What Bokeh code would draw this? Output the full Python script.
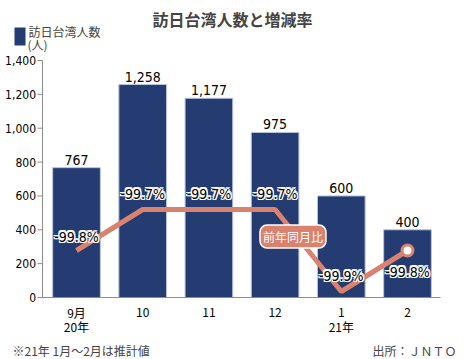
from bokeh.plotting import figure
from bokeh.models import ColumnDataSource, Range1d, Label, BoxAnnotation
from bokeh.core.properties import value
from bokeh.embed import file_html
from bokeh.resources import INLINE

# ---- data ----
months = ["9月", "10", "11", "12", "1", "2"]
years = ["20年", "", "", "", "21年", ""]
visitors = [767, 1258, 1177, 975, 600, 400]
change_pct = [-99.8, -99.7, -99.7, -99.7, -99.9, -99.8]
y_ticks = [0, 200, 400, 600, 800, 1000, 1200, 1400]

# ---- layout (pixels on the 465x359 canvas) ----
W, H = 465, 359
PLOT_L, PLOT_R = 42, 440          # axis extents
PLOT_TOP, PLOT_BOT = 60, 297      # pixel of y=1400 and y=0
X0_PX, DX_PX = 76, 66.2           # centre of first category, category spacing
PCT_HI_PX, PCT_LO_PX = 209, 291   # pixel of -99.7 and -99.9 (hidden secondary scale)

BAR = "#243c72"
LINE = "#d9826e"
AXIS = "#8c8c8c"
NUM_FONT = "'Liberation Sans Narrow', 'DejaVu Sans Condensed', 'Roboto', sans-serif"
JP_FONT = "Noto Sans CJK JP"

ymax = y_ticks[-1]
ky = (PLOT_BOT - PLOT_TOP) / ymax                 # px per unit
y_start = -(H - PLOT_BOT) / ky
y_end = ymax + PLOT_TOP / ky
x_start = -X0_PX / DX_PX
x_end = (W - X0_PX) / DX_PX
kp = (PCT_LO_PX - PCT_HI_PX) / 0.2                # px per percentage point
p_start = -99.9 - (H - PCT_LO_PX) / kp
p_end = -99.7 + PCT_HI_PX / kp

x_axis_l = (PLOT_L - X0_PX) / DX_PX
x_axis_r = (PLOT_R - X0_PX) / DX_PX

xs = list(range(len(months)))

p = figure(width=W, height=H, output_backend="svg", toolbar_location=None,
           x_range=Range1d(x_start, x_end), y_range=Range1d(y_start, y_end),
           min_border=0)
p.extra_y_ranges = {"pct": Range1d(p_start, p_end)}
p.axis.visible = False
p.grid.visible = False
p.outline_line_color = None
p.background_fill_color = "white"
p.border_fill_color = "white"

src = ColumnDataSource(dict(
    x=xs, v=visitors, vl=[f"{v:,}" for v in visitors],
    c=change_pct, cl=[f"{c:.1f}%" for c in change_pct],
    yo=[-14, -16, -16, -16, -16, 21], m=months, yr=years))

# bars
p.vbar(x="x", top="v", width=0.72, source=src, fill_color=BAR,
       line_color="#b8c4dc", line_width=1)

# axes drawn from the ranges
p.segment(x0=[x_axis_l], y0=[0], x1=[x_axis_l], y1=[ymax], line_color=AXIS, line_width=1)
p.segment(x0=[x_axis_l], y0=[0], x1=[x_axis_r], y1=[0], line_color=AXIS, line_width=1)
tick_src = ColumnDataSource(dict(x=[x_axis_l - 2.5 / DX_PX] * len(y_ticks), y=y_ticks,
                                 t=[f"{t:,}" for t in y_ticks]))
p.scatter(x="x", y="y", source=tick_src, marker="dash", size=5, line_color=AXIS,
          line_width=1)
p.text(x="x", y="y", text="t", source=tick_src, x_offset=-4, text_align="right",
       text_baseline="middle", text_font=value(NUM_FONT), text_font_size="12px",
       text_color="black")

# category labels
p.text(x="x", y=0, text="m", source=src, y_offset=15, text_align="center",
       text_baseline="middle", text_font=value(JP_FONT), text_font_size="12px",
       text_color="black")
p.text(x="x", y=0, text="yr", source=src, y_offset=29, text_align="center",
       text_baseline="middle", text_font=value(JP_FONT), text_font_size="12px",
       text_color="black")

# bar value labels
p.text(x="x", y="v", text="vl", source=src, text_align="center",
       text_baseline="alphabetic", y_offset=-8, text_font=value(NUM_FONT),
       text_font_size="14px", text_color="black")

# change line
p.line(x="x", y="c", source=src, y_range_name="pct", line_color=LINE, line_width=5)
p.scatter(x=[xs[-1]], y=[change_pct[-1]], y_range_name="pct", size=11,
          fill_color="white", line_color=LINE, line_width=3)

# halo text for percentages (white copies around the black text)
for dy in (-1.2, 0, 1.2):
    hs = ColumnDataSource(dict(x=xs, c=change_pct, cl=src.data["cl"],
                               yo=[v + dy for v in src.data["yo"]]))
    for dx in (-1.2, 0, 1.2):
        if dx == 0 and dy == 0:
            continue
        p.text(x="x", y="c", text="cl", source=hs, y_range_name="pct",
               text_align="center", text_baseline="middle",
               x_offset=dx, y_offset="yo", text_font=value(NUM_FONT),
               text_font_size="14px", text_color="white")
p.text(x="x", y="c", text="cl", source=src, y_range_name="pct",
       text_align="center", text_baseline="middle", y_offset="yo",
       text_font=value(NUM_FONT), text_font_size="14px", text_color="black")

# series tag
p.add_layout(Label(x=3.27, y=-99.766, y_range_name="pct", text="前年同月比",
                   text_font=JP_FONT, text_font_size="12px", text_color="white",
                   text_align="center", text_baseline="middle",
                   background_fill_color=LINE, border_line_color="white",
                   border_line_width=1.5, padding=3, border_radius=7))

# title, legend, notes (screen units from bottom-left)
p.add_layout(Label(x=232, y=H - 18, x_units="screen", y_units="screen",
                   text="訪日台湾人数と増減率", text_font=JP_FONT,
                   text_font_size="16px", text_font_style="bold",
                   text_align="center", text_baseline="middle"))
p.add_layout(BoxAnnotation(left=14, right=25, top=H - 27, bottom=H - 45,
                           left_units="screen", right_units="screen",
                           top_units="screen", bottom_units="screen",
                           fill_color=BAR, fill_alpha=1, line_color=None))
p.add_layout(Label(x=28, y=H - 31, x_units="screen", y_units="screen",
                   text="訪日台湾人数", text_font=JP_FONT, text_font_size="12px",
                   text_align="left", text_baseline="middle"))
p.add_layout(Label(x=27, y=H - 44, x_units="screen", y_units="screen",
                   text="(人)", text_font=JP_FONT, text_font_size="12px",
                   text_align="left", text_baseline="middle"))
p.add_layout(Label(x=12, y=H - 350, x_units="screen", y_units="screen",
                   text="※21年 1月～2月は推計値", text_font=JP_FONT,
                   text_font_size="12px", text_align="left",
                   text_baseline="middle"))
p.add_layout(Label(x=456, y=H - 350, x_units="screen", y_units="screen",
                   text="出所：ＪＮＴＯ", text_font=JP_FONT,
                   text_font_size="12px", text_align="right",
                   text_baseline="middle"))

open("out.html", "w").write(file_html(p, INLINE))
